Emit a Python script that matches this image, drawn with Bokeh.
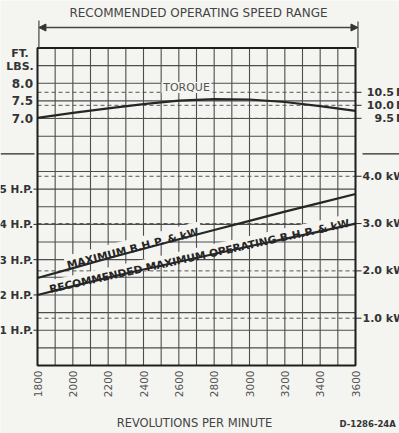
import numpy as np
from bokeh.plotting import figure
from bokeh.models import Range1d, Arrow, NormalHead
from bokeh.core.properties import value
from bokeh.embed import file_html
from bokeh.resources import INLINE

# ---------------- data ----------------
rpm = [1800, 2000, 2200, 2400, 2600, 2800, 3000, 3200, 3400, 3600]
torque_ftlb = [7.02, 7.16, 7.29, 7.41, 7.51, 7.55, 7.54, 7.47, 7.35, 7.22]
max_bhp = [2.48, 2.76, 3.04, 3.31, 3.58, 3.84, 4.10, 4.36, 4.61, 4.86]
rec_bhp = [2.00, 2.25, 2.49, 2.72, 2.94, 3.16, 3.38, 3.59, 3.80, 4.02]

rpm_ticks = [1800, 2000, 2200, 2400, 2600, 2800, 3000, 3200, 3400, 3600]
rpm_labels = [str(v) for v in rpm_ticks]
hp_ticks = [1, 2, 3, 4, 5]
hp_labels = ["1 H.P.", "2 H.P.", "3 H.P.", "4 H.P.", "5 H.P."]
torque_ticks = [7.0, 7.5, 8.0]
torque_labels = ["7.0", "7.5", "8.0"]
nm_ticks = [10.5, 10.0, 9.5]
nm_labels = ["10.5", "10.0", "9.5"]
kw_ticks = [4.0, 3.0, 2.0, 1.0]
kw_labels = ["4.0 kW", "3.0 kW", "2.0 kW", "1.0 kW"]

NM_PER_FTLB = 1.35582
KW_PER_HP = 0.7457

# ---------------- geometry helpers (figure pixels <-> data) ----------------
W, H = 399, 433
LEFT_PX, RIGHT_PX = 37.0, 355.0
BOT_PX, TOP_PX = 365.0, 47.5
RX = (rpm_ticks[-1] - rpm_ticks[0]) / (RIGHT_PX - LEFT_PX)
RY = 9.0 / (BOT_PX - TOP_PX)


def fx(px):
    return rpm_ticks[0] + (px - LEFT_PX) * RX


def fy(py):
    return (BOT_PX - py) * RY


def px_x(x):
    return LEFT_PX + (x - rpm_ticks[0]) / RX


def px_y(y):
    return BOT_PX - y / RY


bg = "#f4f4f1"
ink = "#262626"
grey = "#4d4d4d"
lab = "#333333"
FONT = value("DejaVu Sans")

p = figure(width=W, height=H, output_backend="svg", toolbar_location=None,
           x_range=Range1d(fx(0), fx(W)), y_range=Range1d(fy(H), fy(0)),
           x_axis_location=None, y_axis_location=None, min_border=0,
           background_fill_color=bg, border_fill_color=bg,
           outline_line_color=None)
p.grid.visible = False

x_lo, x_hi = rpm_ticks[0], rpm_ticks[-1]

# grid
vx = np.arange(x_lo, x_hi + 1, 100)
p.segment(x0=vx, y0=0, x1=vx, y1=9, line_color=grey, line_width=1.1)
hy = np.arange(0, 9.01, 0.5)
p.segment(x0=x_lo, y0=hy, x1=x_hi, y1=hy, line_color=grey, line_width=1.1)

# dashed reference lines (N·m and kW)
nm_y = [v / NM_PER_FTLB for v in nm_ticks]
kw_y = [v / KW_PER_HP for v in kw_ticks]
ref_y = nm_y + kw_y
p.segment(x0=x_lo, y0=ref_y, x1=x_hi, y1=ref_y, line_color="#555555",
          line_width=1, line_dash="4 3")
p.segment(x0=x_hi, y0=ref_y, x1=fx(361), y1=ref_y, line_color=ink, line_width=1)


def knockout(x, y, width_px, size_px, angle_deg, pad=1.5):
    """background box behind a rotated, left/alphabetic-anchored text"""
    t = np.radians(angle_deg)
    ax, ay = px_x(x), px_y(y)
    ux, uy = np.cos(t), -np.sin(t)
    nx, ny = -np.sin(t), -np.cos(t)
    up = 0.33 * size_px
    cx = ax + ux * width_px / 2 + nx * up
    cy = ay + uy * width_px / 2 + ny * up
    p.rect(x=[fx(cx)], y=[fy(cy)], width=width_px + 2 * pad,
           height=0.92 * size_px + 2 * pad, width_units="screen",
           height_units="screen", angle=angle_deg, angle_units="deg",
           fill_color=bg, line_color=None)


# TORQUE label with knockout
p.rect(x=[fx(186)], y=[fy(87)], width=50, height=11, width_units="screen",
       height_units="screen", fill_color=bg, line_color=None)
p.text(x=[fx(186)], y=[fy(87)], text=["TORQUE"], text_font=FONT,
       text_font_size="11px", text_color="#555555", text_align="center",
       text_baseline="middle")

LBL = 10.7
x_max_lab = rpm[0] + 168
y_max_lab = np.interp(x_max_lab, rpm, max_bhp) + 4.0 * RY
knockout(x_max_lab, y_max_lab, 12.87 * LBL, LBL, 14.5)

x_rec_lab = rpm[0] + 68
y_rec_lab = np.interp(x_rec_lab, rpm, rec_bhp) + 2.4 * RY
knockout(x_rec_lab, y_rec_lab, 28.98 * LBL, LBL, 12.5, pad=0.5)

p.text(x=[x_max_lab], y=[y_max_lab], text=["MAXIMUM B.H.P. & kW"], text_font=FONT,
       text_font_style="bold", text_font_size=f"{LBL}px", text_color=ink,
       text_align="left", text_baseline="alphabetic", angle=14.5,
       angle_units="deg")
p.text(x=[x_rec_lab], y=[y_rec_lab],
       text=["RECOMMENDED MAXIMUM OPERATING B.H.P. & kW"], text_font=FONT,
       text_font_style="bold", text_font_size=f"{LBL}px", text_color=ink,
       text_align="left", text_baseline="alphabetic", angle=12.5,
       angle_units="deg")

# curves
p.line(rpm, torque_ftlb, line_color=ink, line_width=2.2)
p.line(rpm, max_bhp, line_color=ink, line_width=2.2)
p.line(rpm, rec_bhp, line_color=ink, line_width=2.2)

# frame
p.quad(left=x_lo, right=x_hi, bottom=0, top=9, fill_color=None,
       line_color="#1e1e1e", line_width=2)

# separators at the 6 H.P. level outside the frame
p.segment(x0=[fx(0), fx(362)], y0=[6, 6], x1=[fx(34), fx(W)], y1=[6, 6],
          line_color=ink, line_width=1.2)

# left ticks & labels
p.segment(x0=fx(33), y0=hp_ticks, x1=x_lo, y1=hp_ticks, line_color=ink, line_width=1)
p.text(x=fx(32.5), y=hp_ticks, text=hp_labels, text_font=FONT,
       text_font_style="bold", text_font_size="10.5px", text_color=lab,
       text_align="right", text_baseline="middle")
p.text(x=fx(32.5), y=torque_ticks, text=torque_labels, text_font=FONT,
       text_font_style="bold", text_font_size="12px", text_color=lab,
       text_align="right", text_baseline="middle")
p.text(x=fx(19.5), y=[fy(53), fy(66)], text=["FT.", "LBS."], text_font=FONT,
       text_font_style="bold", text_font_size="11px", text_color=lab,
       text_align="center", text_baseline="middle")

# right labels
p.text(x=fx(393.5), y=nm_y, text=nm_labels, text_font=FONT,
       text_font_style="bold", text_font_size="11px", text_color=lab,
       text_align="right", text_baseline="middle")
p.text(x=fx(395.5), y=nm_y, text=["N·m"] * len(nm_y), text_font=FONT,
       text_font_style="bold", text_font_size="11px", text_color=lab,
       text_align="left", text_baseline="middle")
p.text(x=fx(362), y=kw_y, text=kw_labels, text_font=FONT,
       text_font_style="bold", text_font_size="11px", text_color=lab,
       text_align="left", text_baseline="middle")

# bottom rpm labels (rotated)
p.text(x=rpm_ticks, y=fy(370), text=rpm_labels, text_font=FONT,
       text_font_size="10.5px", text_color="#555555", text_align="right",
       text_baseline="middle", angle=90, angle_units="deg")
p.text(x=[fx(194)], y=[fy(422.5)], text=["REVOLUTIONS PER MINUTE"], text_font=FONT,
       text_font_size="11.5px", text_color="#444444", text_align="center",
       text_baseline="middle")
p.text(x=[fx(339)], y=[fy(423)], text=["D-1286-24A"], text_font=FONT,
       text_font_style="bold", text_font_size="8.5px", text_color=lab,
       text_align="left", text_baseline="middle")

# top: recommended operating speed range
p.text(x=[fx(198)], y=[fy(12.5)], text=["RECOMMENDED OPERATING SPEED RANGE"],
       text_font=FONT, text_font_size="12px", text_color="#444444",
       text_align="center", text_baseline="middle")
x_r0, x_r1 = x_lo + 8, x_hi + 14
p.segment(x0=[x_r0, x_r1], y0=[fy(20), fy(21)], x1=[x_r0, x_r1], y1=[9, 9],
          line_color="#444444", line_width=1.2)
p.add_layout(Arrow(start=NormalHead(size=7, fill_color="#333333", line_color="#333333"),
                   end=NormalHead(size=7, fill_color="#333333", line_color="#333333"),
                   x_start=x_r0, y_start=fy(27), x_end=x_r1, y_end=fy(27),
                   line_color="#444444", line_width=1.3))

open("out.html", "w").write(file_html(p, INLINE))
